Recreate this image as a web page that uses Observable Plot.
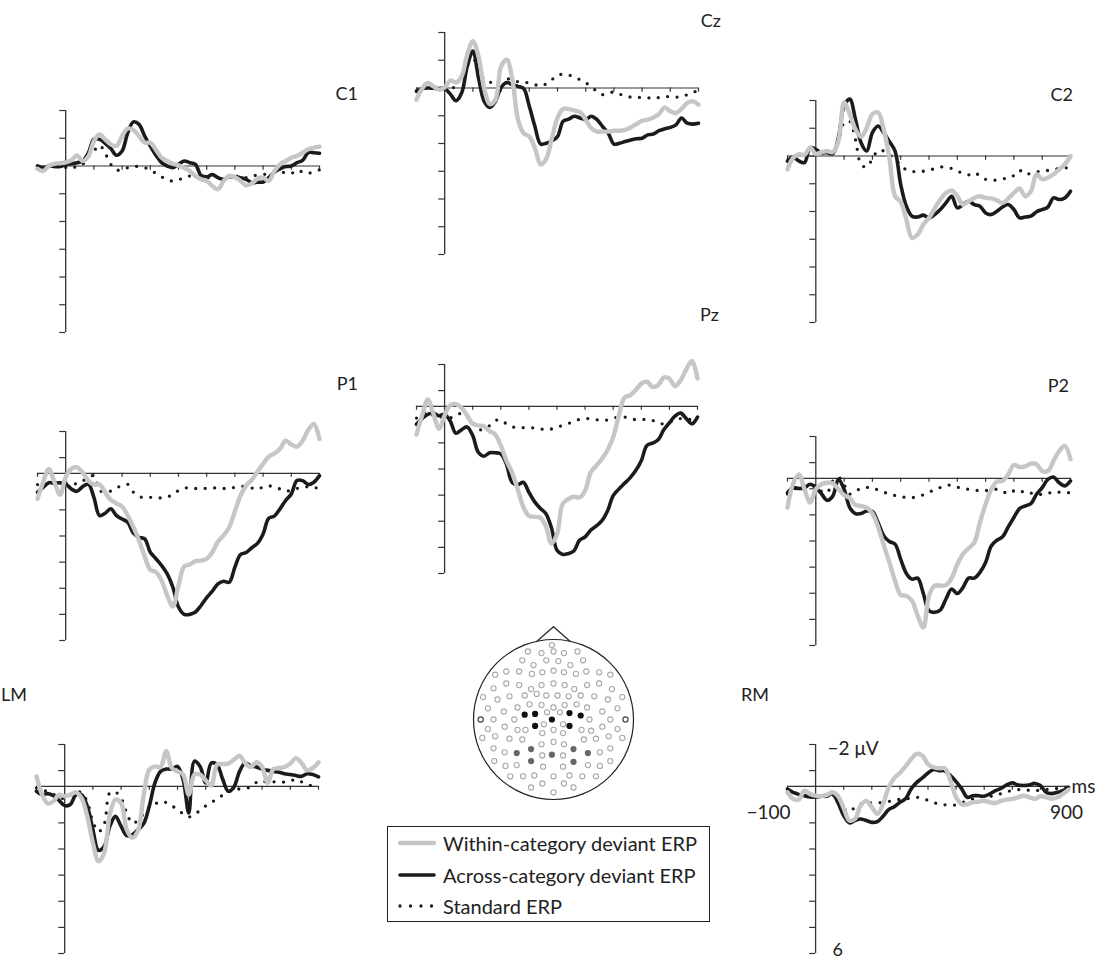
<!DOCTYPE html>
<html><head><meta charset="utf-8">
<script src="https://cdn.jsdelivr.net/npm/d3@7"></script>
<script src="https://cdn.jsdelivr.net/npm/@observablehq/plot@0.6"></script>
<style>
body{margin:0;background:#fff;}
#fig{position:relative;width:1103px;height:959px;overflow:hidden;font-family:Lato,"Open Sans",sans-serif;color:#222;background:#fff;}
#fig svg{position:absolute;overflow:visible;}
.lbl{position:absolute;font-size:18px;line-height:18px;white-space:nowrap;}
#legend{position:absolute;border:1px solid #222;box-sizing:border-box;font-size:20px;}
#legend .row{position:absolute;left:10px;display:flex;align-items:center;height:24px;}
#legend .row svg{position:static;margin-right:7px;}
</style></head><body><div id="fig"></div>
<script>
// ---------- data ----------
const times = [-100,-80,-60,-40,-20,0,20,40,60,80,100,120,140,160,180,200,220,240,260,280,300,320,340,360,380,400,420,440,460,480,500,520,540,560,580,600,620,640,660,680,700,720,740,760,780,800,820,840,860,880,900];
const tickLabels = [-2,-1,0,1,2,3,4,5,6];
const timeTicks = [-100,100,200,300,400,500,600,700,800,900];
const seriesNames = ["Within-category deviant ERP","Across-category deviant ERP","Standard ERP"];
const channels = ["C1","Cz","C2","P1","Pz","P2","LM","RM"];

const C1_within = [0.1,0.18,0,-0.08,-0.1,-0.13,-0.2,-0.38,-0.18,-0.34,-0.9,-1.14,-0.96,-0.78,-0.72,-1.08,-1.35,-1.3,-1.08,-0.84,-0.84,-0.58,-0.3,-0.18,-0.08,-0.02,0.06,0.18,0.36,0.48,0.54,0.72,0.84,0.54,0.36,0.4,0.54,0.7,0.63,0.46,0.42,0.54,0.18,-0.06,-0.18,-0.3,-0.36,-0.48,-0.6,-0.66,-0.7];
const C1_across = [0,0.06,0,0.02,0.02,-0.05,-0.08,-0.12,-0.18,-0.46,-0.96,-0.96,-0.82,-0.63,-0.39,-0.54,-1.2,-1.59,-1.5,-1.08,-0.72,-0.39,-0.12,0,0.06,-0.06,-0.18,-0.12,-0.06,0.34,0.39,0.31,0.42,0.48,0.39,0.39,0.42,0.48,0.6,0.58,0.58,0.42,0.22,0.1,0.02,0,-0.12,-0.2,-0.48,-0.48,-0.46];
const C1_standard = [0,0.02,0.02,0.02,0,0.05,0.1,0,-0.06,-0.36,-0.54,-0.75,-0.46,-0.06,0.14,0.14,0.06,0.02,0.02,0.06,0.14,0.27,0.39,0.5,0.54,0.48,0.45,0.36,0.39,0.42,0.42,0.42,0.42,0.42,0.4,0.36,0.4,0.42,0.36,0.33,0.31,0.27,0.24,0.22,0.24,0.27,0.14,0.22,0.27,0.18,0.14];

const Cz_within = [0.42,0.02,-0.18,-0.06,0.06,-0.02,-0.27,-0.2,-0.42,-1.2,-1.69,-1.14,0.02,0.58,0.42,-0.78,-1.02,-0.3,1.14,1.63,1.75,2.17,2.75,2.55,1.81,1.08,0.75,0.76,0.81,0.87,1.14,1.45,1.57,1.57,1.57,1.54,1.54,1.51,1.42,1.3,1.18,1.14,1.06,0.94,0.7,0.84,0.9,0.75,0.54,0.48,0.6];
const Cz_across = [0.12,0.02,0,0.01,0.02,0.02,0.22,0.46,0.18,-0.78,-1.33,-0.36,0.48,0.7,0.48,-0.02,-0.2,-0.12,-0.06,0.02,0.66,1.39,2.02,1.99,1.9,1.75,1.2,1.12,1.02,1.08,1.14,1.02,1.14,1.39,1.63,2.02,1.99,1.93,1.87,1.83,1.81,1.69,1.66,1.54,1.47,1.42,1.33,1.08,1.27,1.3,1.27];
const Cz_standard = [0.1,0.02,0,0,0.02,0.05,0.05,-0.1,-0.42,-0.85,-1.05,-0.7,-0.3,-0.2,-0.3,-0.38,-0.35,-0.26,-0.23,-0.22,-0.17,-0.12,-0.07,-0.15,-0.3,-0.47,-0.49,-0.47,-0.38,-0.3,-0.19,-0.04,0.12,0.24,0.2,0.14,0.22,0.28,0.33,0.34,0.34,0.35,0.39,0.34,0.3,0.32,0.33,0.31,0.24,0.15,0.12];

const C2_within = [0.48,0.06,-0.06,-0.04,-0.3,-0.08,-0.14,-0.18,-0.14,-0.54,-1.93,-1.51,-0.96,-0.69,-1.02,-1.51,-1.57,-0.96,0.06,1.45,1.65,2.29,2.95,2.83,2.47,2.23,1.89,1.57,1.33,1.24,1.45,1.75,1.63,1.51,1.45,1.51,1.53,1.6,1.69,1.53,1.33,1.17,1.45,1.27,0.66,0.84,0.78,0.66,0.48,0.3,0];
const C2_across = [0.18,0.04,0.18,0.24,-0.3,-0.24,-0.12,-0.12,-0.08,-0.66,-1.81,-2.05,-1.33,-0.48,-0.18,-0.84,-1.08,-0.84,-0.52,-0.18,1.02,1.81,2.17,2.2,2.13,2.23,2.11,1.93,1.69,1.45,1.87,1.75,1.63,1.75,1.81,2.05,2.11,1.99,1.84,1.75,1.93,2.23,2.2,2.17,2.01,1.93,1.84,1.51,1.57,1.51,1.27];
const C2_standard = [0.18,0.05,0,-0.05,-0.1,-0.1,-0.12,-0.12,-0.15,-0.5,-1.2,-1.25,-0.6,0.3,0.4,0.1,-0.2,-0.18,-0.05,0.12,0.32,0.5,0.55,0.57,0.55,0.52,0.45,0.4,0.4,0.45,0.54,0.62,0.68,0.6,0.72,0.84,0.88,0.86,0.82,0.8,0.7,0.52,0.66,0.62,0.57,0.55,0.52,0.48,0.46,0.43,0.42];

const P1_within = [0.98,0.34,-0.17,0.34,0.82,0.15,-0.17,-0.23,-0.04,0.28,0.43,0.43,0.73,1.02,1.15,1.27,1.62,2.06,2.57,3.18,3.69,3.78,4.1,4.68,5.1,4.3,3.57,3.49,3.36,3.34,3.27,3.02,2.61,2.38,2.06,1.45,0.85,0.47,0.25,-0.06,-0.36,-0.64,-0.76,-0.93,-1.25,-1.1,-1.02,-1.25,-1.66,-1.89,-1.31];
const P1_across = [0.73,0.54,0.36,0.38,0.36,0.41,0.6,0.69,0.51,0.41,0.92,1.62,1.53,1.36,1.62,1.75,1.87,2.29,2.45,2.51,3.02,3.27,3.53,3.85,4.36,5.12,5.4,5.4,5.31,5.06,4.76,4.51,4.23,4.13,4.17,3.59,3.11,3.03,2.85,2.68,2.32,1.72,1.64,1.36,1.04,0.79,0.28,0.28,0.43,0.34,0.09];
const P1_standard = [0.43,0.42,0.4,0.38,0.36,0.36,0.38,0.4,0.3,0.15,0.1,0.65,0.72,0.68,0.55,0.48,0.42,0.72,0.88,0.94,0.92,0.93,0.94,0.9,0.82,0.66,0.58,0.54,0.58,0.6,0.57,0.56,0.56,0.58,0.59,0.53,0.5,0.51,0.56,0.62,0.52,0.48,0.53,0.6,0.69,0.64,0.58,0.52,0.52,0.55,0.56];

const Pz_within = [1.08,0.35,-0.26,0.28,0.86,0.35,-0.04,-0.08,0.05,0.35,0.67,0.73,0.77,0.95,1.08,1.5,2.08,2.53,3.17,3.85,4.19,4.23,4.26,4.58,5.25,4.9,3.74,3.55,3.46,3.49,3.23,2.53,2.27,2.01,1.67,1.18,0.35,-0.33,-0.42,-0.62,-0.87,-0.94,-0.74,-0.81,-1.1,-1.06,-0.77,-1.0,-1.41,-1.74,-1.06];
const Pz_across = [0.69,0.47,0.31,0.26,0.36,0.31,0.56,1.03,0.9,0.79,1.12,1.76,1.91,1.78,1.78,1.82,2.21,2.91,3.0,2.91,3.29,3.65,3.9,4.1,4.64,5.51,5.67,5.64,5.54,5.13,5.0,4.74,4.58,4.38,4.0,3.42,3.17,2.95,2.74,2.46,2.08,1.5,1.41,1.28,0.9,0.63,0.38,0.26,0.47,0.67,0.41];
const Pz_standard = [0.45,0.3,0.2,0.35,0.42,0.42,0.44,0.38,0.26,0.4,0.58,0.9,0.85,0.74,0.55,0.52,0.67,0.78,0.82,0.82,0.82,0.83,0.86,0.9,0.87,0.8,0.73,0.66,0.57,0.5,0.47,0.48,0.51,0.55,0.52,0.45,0.42,0.41,0.47,0.51,0.5,0.51,0.54,0.65,0.67,0.61,0.52,0.47,0.49,0.5,0.45];

const P2_within = [1.12,0.2,-0.15,0.42,0.93,0.42,0.23,0.17,0.19,0.42,0.64,0.76,1.02,1.06,1.12,1.35,1.86,2.55,3.22,3.92,4.46,4.5,4.69,5.26,5.71,4.5,4.11,4.11,4.09,3.82,3.29,2.9,2.68,2.46,1.69,0.99,0.42,0.13,0.1,-0.15,-0.51,-0.43,-0.46,-0.56,-0.54,-0.28,-0.28,-0.66,-1.04,-1.24,-0.73];
const P2_across = [0.55,0.36,0.39,0.36,0.23,0.36,0.59,0.84,0.68,0.04,0.42,1.12,1.35,1.35,1.25,1.27,1.69,2.2,2.42,2.52,3.1,3.64,3.86,3.82,4.41,5.07,5.13,5.04,4.62,4.24,4.41,4.18,3.82,3.82,3.6,3.22,2.59,2.37,2.24,1.86,1.5,1.16,1.06,0.97,0.61,0.36,0.04,-0.05,0.17,0.29,0.1];
const P2_standard = [0.6,0.45,0.34,0.3,0.25,0.3,0.5,0.55,0.1,-0.05,0.25,0.6,0.5,0.38,0.35,0.36,0.45,0.53,0.6,0.66,0.71,0.73,0.74,0.7,0.63,0.53,0.44,0.35,0.27,0.27,0.34,0.39,0.42,0.45,0.48,0.47,0.45,0.42,0.5,0.59,0.48,0.45,0.58,0.57,0.56,0.63,0.58,0.51,0.53,0.55,0.55];

const LM_within = [-0.38,0.32,0.66,0.57,0.32,0.38,0.32,0.23,0.45,1.15,2.17,2.87,2.55,1.08,0.51,0.64,1.66,1.97,1.7,0.35,-0.64,-0.76,-0.74,-1.34,-0.7,-0.57,-0.45,0.32,-0.45,-0.45,-0.23,-0.03,-0.83,-0.85,-0.87,-1.02,-1.17,-0.89,-0.74,-0.92,-0.74,-0.13,-0.66,-0.7,-0.74,-0.87,-1.08,-0.89,-0.61,-0.7,-0.92];
const LM_across = [0.19,0.32,0.28,0.36,0.54,0.74,0.7,0.32,0.32,0.76,1.66,2.45,2.3,1.53,1.15,1.53,1.89,1.85,1.66,1.43,0.76,-0.13,-0.57,-0.66,-0.66,-0.76,-0.25,1.02,-0.96,-0.76,-0.13,-0.89,-0.83,-0.28,0.19,0.03,-0.57,-0.89,-0.79,-0.74,-0.66,-0.61,-0.57,-0.54,-0.48,-0.45,-0.41,-0.38,-0.48,-0.45,-0.36];
const LM_standard = [0.06,0.15,0.2,0.3,0.45,0.45,0.35,0.2,0.25,0.6,1.35,1.74,1.45,0.25,0.22,0.45,1.02,1.42,1.3,1.05,0.8,0.68,0.58,0.62,0.74,0.9,1.05,1.17,1.08,0.92,0.75,0.62,0.48,0.34,0.22,0.12,0.1,0.07,0.03,-0.15,-0.22,-0.13,-0.17,-0.18,-0.16,-0.2,-0.27,-0.17,-0.08,0,0.05];

const RM_within = [0.23,0.48,0.51,0.17,0.29,0.36,0.38,0.33,0.23,0.38,0.84,1.31,1.25,0.74,0.56,0.8,1.06,0.68,0.04,-0.31,-0.51,-0.76,-1.04,-1.24,-1.17,-0.85,-0.73,-0.69,-0.69,-0.22,0.42,0.69,0.69,0.61,0.59,0.56,0.61,0.64,0.56,0.51,0.48,0.42,0.36,0.42,0.48,0.38,0.42,0.48,0.42,0.29,0.13];
const RM_across = [0.1,0.23,0.31,0.36,0.41,0.41,0.38,0.38,0.29,0.64,1.12,1.4,1.31,1.25,1.31,1.38,1.35,1.15,0.89,0.78,0.61,0.48,0.1,-0.15,-0.32,-0.51,-0.64,-0.6,-0.59,-0.41,-0.18,0.1,0.42,0.36,0.36,0.38,0.29,0.17,0.08,-0.05,-0.13,-0.05,-0.03,-0.05,-0.11,-0.03,0.23,0.28,0.23,0.17,0.04];
const RM_standard = [0.12,0.2,0.3,0.35,0.36,0.38,0.38,0.35,0.32,0.5,0.85,0.98,0.8,0.68,0.64,0.64,0.64,0.61,0.58,0.53,0.5,0.48,0.45,0.42,0.46,0.54,0.62,0.68,0.71,0.72,0.71,0.63,0.55,0.49,0.43,0.38,0.38,0.36,0.28,0.22,0.15,0.13,0.13,0.15,0.17,0.14,0.12,0.1,0.08,0.04,0.04];

// electrode map (normalized head coordinates, +y toward the back)
const otherElectrodes = [
[-0.02,-0.93],[-0.32,-0.85],[-0.15,-0.83],[0.00,-0.85],[0.13,-0.83],[0.30,-0.85],
[-0.39,-0.74],[-0.25,-0.68],[-0.09,-0.74],[0.06,-0.73],[0.21,-0.68],[0.37,-0.74],
[-0.73,-0.56],[-0.59,-0.60],[-0.43,-0.60],[-0.27,-0.57],[-0.14,-0.59],[0.00,-0.61],[0.13,-0.59],[0.28,-0.57],[0.41,-0.60],[0.57,-0.59],[0.71,-0.56],
[-0.75,-0.39],[-0.59,-0.45],[-0.43,-0.43],[-0.28,-0.38],[-0.15,-0.43],[0.00,-0.45],[0.14,-0.43],[0.26,-0.38],[0.42,-0.43],[0.57,-0.45],[0.73,-0.38],
[-0.88,-0.28],[-0.70,-0.25],[-0.55,-0.29],[-0.36,-0.30],[-0.21,-0.32],[-0.09,-0.30],[0.05,-0.30],[0.19,-0.29],[0.34,-0.30],[0.51,-0.29],[0.68,-0.25],[0.86,-0.28],
[-0.82,-0.14],[-0.62,-0.10],[-0.45,-0.15],[-0.30,-0.19],[-0.15,-0.18],[0.00,-0.15],[0.14,-0.18],[0.29,-0.19],[0.42,-0.15],[0.61,-0.10],[0.80,-0.14],
[-0.75,0.00],[-0.49,0.00],[-0.08,-0.09],[0.08,-0.09],[0.45,0.00],[0.71,0.00],
[-0.82,0.12],[-0.61,0.09],[-0.45,0.13],[-0.35,0.13],[-0.12,0.06],[0.12,0.06],[0.35,0.13],[0.47,0.14],[0.61,0.09],[0.80,0.12],
[-0.89,0.23],[-0.73,0.21],[-0.55,0.24],[-0.39,0.25],[-0.14,0.17],[0.00,0.13],[0.12,0.17],[0.38,0.25],[0.53,0.24],[0.69,0.21],[0.86,0.23],
[-0.15,0.31],[0.00,0.28],[0.13,0.31],
[-0.75,0.36],[-0.61,0.41],[0.58,0.41],[0.71,0.36],
[-0.74,0.52],[-0.60,0.58],[-0.46,0.57],[-0.14,0.45],[0.12,0.45],[0.43,0.57],[0.58,0.58],[0.71,0.52],[-0.13,0.59],[0.12,0.59],
[-0.54,0.71],[-0.38,0.71],[-0.24,0.70],[0.00,0.71],[0.20,0.70],[0.36,0.71],[0.53,0.71],
[-0.28,0.85],[-0.14,0.80],[0.13,0.80],[0.25,0.85],[0.00,0.91]
];
const centralElectrodes = [[-0.36,-0.06],[-0.23,-0.07],[-0.02,0.00],[0.20,-0.08],[0.34,-0.05],[-0.23,0.08],[0.20,0.08]];
const parietalElectrodes = [[-0.46,0.42],[-0.28,0.37],[-0.02,0.44],[0.25,0.37],[0.43,0.42],[-0.28,0.52],[0.25,0.53]];
const mastoidElectrodes = [[-0.91,0.00],[0.90,0.00]];
const noseOutline = [[-0.21,-0.975],[0.0,-1.16],[0.21,-0.975]];

// ---------- layout & style ----------
const erp = {
  C1:{within:C1_within,across:C1_across,standard:C1_standard},
  Cz:{within:Cz_within,across:Cz_across,standard:Cz_standard},
  C2:{within:C2_within,across:C2_across,standard:C2_standard},
  P1:{within:P1_within,across:P1_across,standard:P1_standard},
  Pz:{within:Pz_within,across:Pz_across,standard:Pz_standard},
  P2:{within:P2_within,across:P2_across,standard:P2_standard},
  LM:{within:LM_within,across:LM_across,standard:LM_standard},
  RM:{within:RM_within,across:RM_across,standard:RM_standard}
};
const layout = {
  C1:{left:37,right:319,top:110,bottom:332,shift:0,lx:358,ly:94,la:"end"},
  Cz:{left:416,right:698,top:32,bottom:254,shift:0,lx:721,ly:21,la:"end"},
  C2:{left:787,right:1070,top:100,bottom:322,shift:0,lx:1073,ly:95,la:"end"},
  P1:{left:37,right:319,top:431,bottom:640,shift:0.4,lx:358,ly:384,la:"end"},
  Pz:{left:416,right:697,top:364,bottom:573,shift:0.4,lx:719,ly:315,la:"end"},
  P2:{left:787,right:1070,top:436,bottom:645,shift:0.4,lx:1069,ly:386,la:"end"},
  LM:{left:36,right:318,top:744,bottom:953,shift:0.4,lx:1,ly:695,la:"start"},
  RM:{left:787,right:1068,top:744,bottom:953,shift:0.4,lx:741,ly:695,la:"start"}
};
const GRAY = "#c6c6c6", BLACK = "#1b1b1b", AXIS = "#333";
const M = 30;
const fig = document.getElementById("fig");

function place(el, left, top) {
  el.style.left = left + "px"; el.style.top = top + "px"; fig.appendChild(el);
}

for (const ch of channels) {
  const L = layout[ch], d = erp[ch];
  const yTicks = tickLabels.map(v => v + L.shift);
  const rows = times.map((t, i) => ({t, within: d.within[i], across: d.across[i], standard: d.standard[i]}));
  const marks = [
    Plot.ruleY([0], {x1: -100, x2: 900, stroke: AXIS, strokeWidth: 1.2}),
    Plot.ruleX(timeTicks, {y1: 0, y2: 0.15, stroke: AXIS, strokeWidth: 1.2}),
    Plot.ruleX([0], {y1: yTicks[0], y2: yTicks[yTicks.length - 1], stroke: AXIS, strokeWidth: 1.3}),
    Plot.ruleY(yTicks, {x1: -21, x2: 0, stroke: AXIS, strokeWidth: 1.2}),
    Plot.line(rows, {x: "t", y: "standard", stroke: BLACK, strokeWidth: 3.3, strokeDasharray: "0 9.5", strokeLinecap: "round", curve: "catmull-rom"}),
    Plot.line(rows, {x: "t", y: "across", stroke: BLACK, strokeWidth: 3.6, curve: "catmull-rom"}),
    Plot.line(rows, {x: "t", y: "within", stroke: GRAY, strokeWidth: 4.4, curve: "catmull-rom"})
  ];
  if (ch === "RM") {
    const yTop = yTicks[0], yBot = yTicks[yTicks.length - 1];
    marks.push(
      Plot.text([`\u2212${Math.abs(tickLabels[0])} \u03bcV`], {x: 0, y: yTop, dx: 12, dy: 4, textAnchor: "start", fontSize: 19, fill: "#222"}),
      Plot.text([`${tickLabels[tickLabels.length - 1]}`], {x: 0, y: yBot, dx: 17, dy: -3, textAnchor: "start", fontSize: 18, fill: "#222"}),
      Plot.text([`\u2212${Math.abs(times[0])}`], {x: times[0], y: 0, dx: 3, dy: 27, textAnchor: "end", fontSize: 19, fill: "#222"}),
      Plot.text([`${times[times.length - 1]}`], {x: times[times.length - 1], y: 0, dx: -2, dy: 27, textAnchor: "middle", fontSize: 19, fill: "#222"}),
      Plot.text(["ms"], {x: times[times.length - 1], y: 0, dx: 3, dy: 1, textAnchor: "start", fontSize: 19, fill: "#222"})
    );
  }
  const plot = Plot.plot({
    width: L.right - L.left + 2 * M,
    height: L.bottom - L.top + 2 * M,
    margin: M,
    x: {domain: [-100, 900], axis: null},
    y: {domain: [yTicks[yTicks.length - 1], yTicks[0]], axis: null},
    style: {overflow: "visible", background: "transparent", fontFamily: "Lato, 'Open Sans', sans-serif"},
    marks
  });
  place(plot, L.left - M, L.top - M);

  const lab = document.createElement("div");
  lab.className = "lbl";
  lab.textContent = ch;
  if (L.la === "end") { lab.style.right = (1103 - L.lx) + "px"; lab.style.top = (L.ly - 10) + "px"; fig.appendChild(lab); }
  else place(lab, L.lx, L.ly - 10);
}

// ---------- head map ----------
const HR = 80; // px per head radius
const headPlot = Plot.plot({
  width: 2.2 * HR, height: 2.25 * HR, margin: 0,
  x: {domain: [-1.1, 1.1], axis: null},
  y: {domain: [1.05, -1.2], axis: null},
  style: {overflow: "visible", background: "transparent"},
  marks: [
    Plot.dot([[0, 0]], {x: d => d[0], y: d => d[1], r: HR, stroke: "#222", strokeWidth: 1.2, fill: "none"}),
    Plot.line(noseOutline, {x: d => d[0], y: d => d[1], stroke: "#222", strokeWidth: 1.2}),
    Plot.dot(otherElectrodes, {x: d => d[0], y: d => d[1], r: 2.6, stroke: "#a8a8a8", strokeWidth: 1.1, fill: "white"}),
    Plot.dot(mastoidElectrodes, {x: d => d[0], y: d => d[1], r: 2.6, stroke: "#444", strokeWidth: 1.2, fill: "white"}),
    Plot.dot(centralElectrodes, {x: d => d[0], y: d => d[1], r: 3.1, fill: "#111"}),
    Plot.dot(parietalElectrodes, {x: d => d[0], y: d => d[1], r: 3.1, fill: "#666"})
  ]
});
place(headPlot, 553 - 1.1 * HR, 719 - 1.2 * HR);

// ---------- legend ----------
const legend = document.createElement("div");
legend.id = "legend";
legend.style.width = "323px"; legend.style.height = "96px";
const swatchStyles = [
  {stroke: GRAY, width: 4.4, dash: null},
  {stroke: BLACK, width: 3.6, dash: null},
  {stroke: BLACK, width: 3.3, dash: "0 10.5"}
];
const rowTops = [4, 36, 67];
seriesNames.forEach((name, i) => {
  const row = document.createElement("div");
  row.className = "row";
  row.style.top = rowTops[i] + "px";
  const s = swatchStyles[i];
  row.innerHTML = `<svg width="38" height="10"><line x1="2" y1="5" x2="36" y2="5" stroke="${s.stroke}" stroke-width="${s.width}" stroke-linecap="round" ${s.dash ? `stroke-dasharray="${s.dash}"` : ""}/></svg><span>${name}</span>`;
  legend.appendChild(row);
});
place(legend, 387, 826);
</script></body></html>
